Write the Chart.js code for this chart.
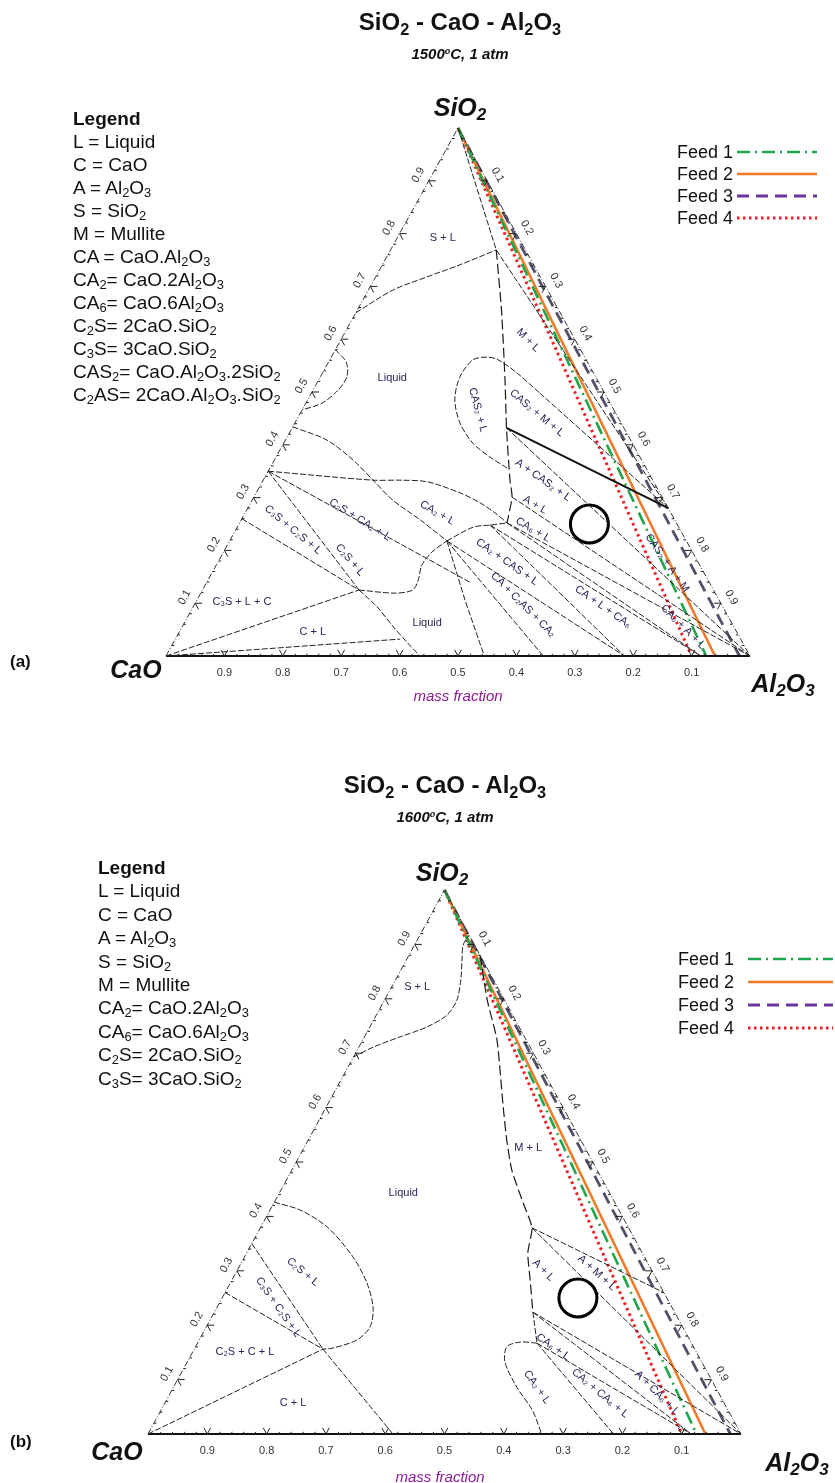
<!DOCTYPE html>
<html>
<head>
<meta charset="utf-8">
<script src="https://cdn.jsdelivr.net/npm/chart.js@4.4.0/dist/chart.umd.min.js"></script>
<style>
  body { margin: 0; background: #fff; }
  #page { position: relative; width: 835px; height: 1483px; overflow: hidden; font-family: Arial, "Liberation Sans", sans-serif; color: #111; }
  canvas { position: absolute; left: 0; }
  .t { position: absolute; white-space: nowrap; line-height: 1; }
  .c { transform: translate(-50%, -50%); }
  .l { transform: translate(0, -50%); }
  sub { font-size: 0.68em; vertical-align: -0.28em; line-height: 0; }
  sup { font-size: 0.6em; vertical-align: 0.55em; line-height: 0; }
  .title { font-weight: bold; font-size: 24px; }
  .sub { font-weight: bold; font-style: italic; font-size: 15px; }
  .vtx { font-weight: bold; font-style: italic; font-size: 25px; }
  .leg { font-size: 19px; }
  .feed { font-size: 18px; }
  .mf { font-style: italic; font-size: 15px; color: #8b1a96; }
</style>
</head>
<body>
<div id="page">
  <canvas id="chart1500" width="835" height="740" style="top:0"></canvas>
  <canvas id="chart1600" width="835" height="723" style="top:760px"></canvas>

  <!-- panel (a) texts -->
  <div class="t c title" style="left:460px;top:22px">SiO<sub>2</sub> - CaO - Al<sub>2</sub>O<sub>3</sub></div>
  <div class="t c sub" style="left:460px;top:53px">1500<sup>o</sup>C, 1 atm</div>
  <div class="t c vtx" style="left:460px;top:107px">SiO<sub>2</sub></div>
  <div class="t c vtx" style="left:136px;top:669px">CaO</div>
  <div class="t c vtx" style="left:783px;top:683px">Al<sub>2</sub>O<sub>3</sub></div>
  <div class="t c mf" style="left:458px;top:695px">mass fraction</div>
  <div class="t l" style="left:10px;top:661px;font-weight:bold;font-size:17px">(a)</div>
  <div id="legend1500"></div>
  <div id="feeds1500"></div>

  <!-- panel (b) texts -->
  <div class="t c title" style="left:445px;top:785px">SiO<sub>2</sub> - CaO - Al<sub>2</sub>O<sub>3</sub></div>
  <div class="t c sub" style="left:445px;top:816px">1600<sup>o</sup>C, 1 atm</div>
  <div class="t c vtx" style="left:442px;top:872px">SiO<sub>2</sub></div>
  <div class="t c vtx" style="left:117px;top:1451px">CaO</div>
  <div class="t c vtx" style="left:797px;top:1462px">Al<sub>2</sub>O<sub>3</sub></div>
  <div class="t c mf" style="left:440px;top:1476px">mass fraction</div>
  <div class="t l" style="left:10px;top:1441px;font-weight:bold;font-size:17px">(b)</div>
  <div id="legend1600"></div>
  <div id="feeds1600"></div>
</div>

<script>
// compositions are [SiO2, Al2O3] mass fractions, CaO = 1 - SiO2 - Al2O3
const tickValues = [0.1, 0.2, 0.3, 0.4, 0.5, 0.6, 0.7, 0.8, 0.9];

// feed lines run from pure SiO2 to the CaO-Al2O3 edge
const feedNames = ['Feed 1', 'Feed 2', 'Feed 3', 'Feed 4'];
const feedBaseAl2O3 = [0.925, 0.94, 0.982, 0.90];
const circleComposition = [0.25, 0.60];

const legendLines1500 = [
  'L = Liquid', 'C = CaO', 'A = Al<sub>2</sub>O<sub>3</sub>', 'S = SiO<sub>2</sub>', 'M = Mullite',
  'CA = CaO.Al<sub>2</sub>O<sub>3</sub>', 'CA<sub>2</sub>= CaO.2Al<sub>2</sub>O<sub>3</sub>',
  'CA<sub>6</sub>= CaO.6Al<sub>2</sub>O<sub>3</sub>', 'C<sub>2</sub>S= 2CaO.SiO<sub>2</sub>',
  'C<sub>3</sub>S= 3CaO.SiO<sub>2</sub>', 'CAS<sub>2</sub>= CaO.Al<sub>2</sub>O<sub>3</sub>.2SiO<sub>2</sub>',
  'C<sub>2</sub>AS= 2CaO.Al<sub>2</sub>O<sub>3</sub>.SiO<sub>2</sub>'
];
const legendLines1600 = [
  'L = Liquid', 'C = CaO', 'A = Al<sub>2</sub>O<sub>3</sub>', 'S = SiO<sub>2</sub>', 'M = Mullite',
  'CA<sub>2</sub>= CaO.2Al<sub>2</sub>O<sub>3</sub>', 'CA<sub>6</sub>= CaO.6Al<sub>2</sub>O<sub>3</sub>',
  'C<sub>2</sub>S= 2CaO.SiO<sub>2</sub>', 'C<sub>3</sub>S= 3CaO.SiO<sub>2</sub>'
];

// ---- 1500 °C ----
const liquidus1500 = [
  [[0.65, 0], [0.693, 0.042], [0.718, 0.088], [0.741, 0.133], [0.769, 0.181]],
  [[0.58, 0], [0.557, 0.030], [0.53, 0.045], [0.504, 0.043], [0.479, 0.028], [0.466, 0]],
  [[0.434, 0], [0.409, 0.071], [0.371, 0.135], [0.333, 0.188], [0.295, 0.241], [0.258, 0.306], [0.218, 0.372]],
  [[0.35, 0], [0.333, 0.188], [0.333, 0.234], [0.330, 0.282], [0.309, 0.349], [0.29, 0.393], [0.271, 0.428], [0.252, 0.458]],
  [[0.218, 0.372], [0.244, 0.404], [0.248, 0.431], [0.252, 0.458]],
  [[0.125, 0.268], [0.119, 0.333], [0.125, 0.360], [0.144, 0.360], [0.172, 0.352], [0.197, 0.357], [0.218, 0.372]],
  [[0.125, 0.268], [0.093, 0.315], [0.055, 0.362], [0.025, 0.401], [0, 0.435]],
  [[0.356, 0.406], [0.377, 0.366], [0.403, 0.324], [0.441, 0.283], [0.485, 0.252], [0.528, 0.239],
   [0.561, 0.245], [0.566, 0.267], [0.561, 0.288], [0.536, 0.333], [0.498, 0.391]]
];
const dashed1500 = [
  [[0.769, 0.181], [0.655, 0.247], [0.523, 0.319], [0.432, 0.367], [0.333, 0.4225], [0.301, 0.442], [0.252, 0.458]]
];
const tieLines1500 = [
  [[1, 0], [0.769, 0.181]],
  [[0.769, 0.181], [0.28, 0.72]],
  [[0.498, 0.391], [0.28, 0.72]],
  [[0.432, 0.367], [0, 1]],
  [[0.301, 0.442], [0, 1]],
  [[0.252, 0.458], [0, 1]],
  [[0.252, 0.458], [0, 0.916]],
  [[0.248, 0.431], [0, 0.916]],
  [[0.248, 0.431], [0, 0.785]],
  [[0.218, 0.372], [0, 0.785]],
  [[0.218, 0.372], [0, 0.646]],
  [[0.218, 0.372], [0.106, 0.459], [0, 0.545]],
  [[0.26, 0], [0.125, 0.268]],
  [[0.35, 0], [0.125, 0.268]],
  [[0, 0], [0.125, 0.268]],
  [[0, 0], [0.032, 0.385]],
  [[0.35, 0], [0.14, 0.45]]
];
const boldLines1500 = [
  [[0.432, 0.367], [0.28, 0.72]]
];
const labels1500 = [
  ['S + L', 0.792, 0.078, 0], ['Liquid', 0.527, 0.124, 0], ['M + L', 0.598, 0.321, 45],
  ['CAS₂ + L', 0.466, 0.301, 75], ['CAS₂ + M + L', 0.46, 0.405, 40], ['A + CAS₂ + L', 0.333, 0.479, 35],
  ['A + L', 0.286, 0.489, 30], ['CA₆ + L', 0.239, 0.509, 30], ['CA₂ + CAS + L', 0.178, 0.495, 35],
  ['CA + C₂AS + CA₂', 0.097, 0.563, 45], ['CA + L + CA₆', 0.093, 0.702, 35], ['CAS₂ + A + M', 0.176, 0.77, 55],
  ['CA₆ + A + L', 0.055, 0.858, 45], ['CA₂ + L', 0.271, 0.329, 30], ['C₂S + CA₂ + L', 0.258, 0.203, 32],
  ['C₃S + C₂S + L', 0.239, 0.098, 40], ['C₂S + L', 0.182, 0.224, 50], ['C₃S + L + C', 0.102, 0.079, 0],
  ['C + L', 0.045, 0.229, 0], ['Liquid', 0.0625, 0.416, 0]
];

// ---- 1600 °C ----
const liquidus1600 = [
  [[0.693, 0], [0.711, 0.024], [0.730, 0.060], [0.748, 0.096], [0.770, 0.119], [0.798, 0.122],
   [0.835, 0.110], [0.871, 0.094], [0.899, 0.082], [0.917, 0.083]],
  [[0.426, 0], [0.412, 0.05], [0.3805, 0.112], [0.325, 0.1835], [0.278, 0.23], [0.233, 0.263],
   [0.197, 0.276], [0.173, 0.266], [0.158, 0.233], [0.156, 0.217]],
  [[0.167, 0.5725], [0.169, 0.543], [0.16, 0.525], [0.132, 0.536], [0.085, 0.58], [0.044, 0.626], [0, 0.664]],
  [[0.224, 0.537], [0.167, 0.5725]]
];
const dashed1600 = [
  [[0.88, 0.12], [0.798, 0.173], [0.724, 0.2265], [0.601, 0.2985], [0.54, 0.335], [0.485, 0.371],
   [0.425, 0.42], [0.379, 0.458], [0.333, 0.474], [0.283, 0.503], [0.224, 0.537]]
];
const tieLines1600 = [
  [[0.379, 0.458], [0.26, 0.74]],
  [[0.379, 0.458], [0, 1]],
  [[0.224, 0.537], [0, 1]],
  [[0.224, 0.537], [0, 0.916]],
  [[0.167, 0.5725], [0, 0.916]],
  [[0.167, 0.5725], [0, 0.785]],
  [[0.35, 0], [0.156, 0.217]],
  [[0.26, 0], [0.156, 0.217]],
  [[0, 0], [0.156, 0.217]],
  [[0.156, 0.217], [0, 0.413]]
];
const boldLines1600 = [];
const labels1600 = [
  ['S + L', 0.822, 0.043, 0], ['Liquid', 0.443, 0.209, 0], ['M + L', 0.526, 0.378, 0],
  ['A + L', 0.301, 0.516, 45], ['A + M + L', 0.296, 0.609, 42], ['CA₆ + L', 0.16, 0.603, 35],
  ['CA₂ + L', 0.086, 0.613, 55], ['CA₂ + CA₆ + L', 0.075, 0.725, 40], ['A + CA₆ + L', 0.075, 0.821, 45],
  ['C₂S + L', 0.298, 0.112, 40], ['C₃S + C₂S + L', 0.233, 0.103, 55], ['C₂S + C + L', 0.151, 0.088, 0],
  ['C + L', 0.057, 0.216, 0]
];

const FONT = 'Arial, "Liberation Sans", sans-serif';
const feedStyles = [
  { color: '#1fa64a', legend: '#1fa64a', dash: [13, 5, 2, 5], width: 2.6 },
  { color: '#f07a28', legend: '#f07a28', dash: [], width: 2.6 },
  { color: '#55506a', legend: '#6a35a0', dash: [12, 7], width: 2.8 },
  { color: '#f01c24', legend: '#f01c24', dash: [2.5, 3.5], width: 3 }
];

// ternary composition -> cartesian value on the hidden linear axes
function toPoint(c) {
  return { x: c[1] + c[0] / 2, y: c[0] };
}

function lineSet(points, color, width, dash, tension) {
  return {
    data: points.map(toPoint), showLine: true, borderColor: color, borderWidth: width,
    borderDash: dash, pointRadius: 0, fill: false, tension: tension || 0, clip: false
  };
}

// ticks, tick labels, region labels and feed legend samples
const ternaryDecor = {
  id: 'ternaryDecor',
  afterDatasetsDraw(chart, args, opts) {
    const { ctx, scales: { x, y } } = chart;
    const px = c => { const p = toPoint(c); return [x.getPixelForValue(p.x), y.getPixelForValue(p.y)]; };
    const O = px([0, 0]), Al = px([0, 1]), Si = px([1, 0]);
    const unit = (a, b) => { const dx = b[0] - a[0], dy = b[1] - a[1], n = Math.hypot(dx, dy); return [dx / n, dy / n]; };
    const up1 = unit(O, Si);   // along left edge, upward
    const up2 = unit(Al, Si);  // along right edge, upward
    ctx.save();
    ctx.strokeStyle = '#222';
    ctx.lineWidth = 1;
    const seg = (p, d, len) => { ctx.moveTo(p[0], p[1]); ctx.lineTo(p[0] + d[0] * len, p[1] + d[1] * len); };
    ctx.beginPath();
    for (let i = 1; i < 50; i++) {
      const v = i / 50;
      const major = i % 5 === 0;
      const len = major ? 7 : 2.5;
      const b = px([0, v]), l = px([v, 0]), r = px([1 - v, v]);
      seg(b, up1, len); if (major) seg(b, up2, len);
      seg(l, [1, 0], len); if (major) seg(l, [-up2[0], -up2[1]], len);
      seg(r, [-1, 0], len); if (major) seg(r, [-up1[0], -up1[1]], len);
    }
    ctx.stroke();

    ctx.fillStyle = '#333';
    ctx.font = '11px ' + FONT;
    ctx.textAlign = 'center';
    ctx.textBaseline = 'middle';
    const angL = Math.atan2(up1[1], up1[0]);
    const angR = Math.atan2(-up2[1], -up2[0]);
    tickValues.forEach(v => {
      const b = px([0, 1 - v]);
      ctx.fillText(v.toFixed(1), b[0], b[1] + 17);
      const l = px([v, 0]);
      ctx.save(); ctx.translate(l[0] + up1[1] * 12, l[1] - up1[0] * 12); ctx.rotate(angL);
      ctx.fillText(v.toFixed(1), 0, 0); ctx.restore();
      const r = px([1 - v, v]);
      ctx.save(); ctx.translate(r[0] - up2[1] * 12, r[1] + up2[0] * 12); ctx.rotate(angR);
      ctx.fillText(v.toFixed(1), 0, 0); ctx.restore();
    });

    ctx.fillStyle = '#2c2456';
    ctx.font = '11px ' + FONT;
    opts.labels.forEach(([text, s, a, ang]) => {
      const p = px([s, a]);
      ctx.save(); ctx.translate(p[0], p[1]); ctx.rotate(ang * Math.PI / 180);
      ctx.fillText(text, 0, 0); ctx.restore();
    });

    // feed legend line samples
    feedStyles.forEach((st, i) => {
      const yy = opts.legendY[i];
      ctx.beginPath();
      ctx.strokeStyle = st.legend;
      ctx.lineWidth = st.width;
      ctx.setLineDash(st.dash);
      ctx.moveTo(opts.legendX[0], yy);
      ctx.lineTo(opts.legendX[1], yy);
      ctx.stroke();
    });
    ctx.restore();
  }
};

function buildLegend(id, lines, left, top, step) {
  let html = `<div class="t l leg" style="left:${left}px;top:${top}px;font-weight:bold">Legend</div>`;
  lines.forEach((txt, i) => {
    html += `<div class="t l leg" style="left:${left}px;top:${(top + step * (i + 1)).toFixed(1)}px">${txt}</div>`;
  });
  document.getElementById(id).innerHTML = html;
}

function buildFeedText(id, left, tops) {
  document.getElementById(id).innerHTML = feedNames.map((n, i) =>
    `<div class="t l feed" style="left:${left}px;top:${tops[i]}px">${n}</div>`).join('');
}

function drawDiagram(canvasId, liquidus, dashed, ties, bold, labels, padding, legendX, legendY) {
  const datasets = [];
  liquidus.forEach(p => datasets.push(lineSet(p, '#222', 1, [6, 2], 0.3)));
  dashed.forEach(p => datasets.push(lineSet(p, '#1a1a1a', 1.2, [10, 4], 0.2)));
  ties.forEach(p => datasets.push(lineSet(p, '#222', 1, [6, 2])));
  bold.forEach(p => datasets.push(lineSet(p, '#111', 2, [])));
  // triangle edges
  datasets.push(lineSet([[0, 0], [0, 1]], '#111', 2, []));
  datasets.push(lineSet([[0, 0], [1, 0]], '#333', 1, [6, 2, 1, 2]));
  datasets.push(lineSet([[1, 0], [0, 1]], '#333', 1, [6, 2, 1, 2]));
  // feeds
  feedBaseAl2O3.forEach((a, i) => {
    const st = feedStyles[i];
    datasets.push(lineSet([[1, 0], [0, a]], st.color, st.width, st.dash));
  });
  datasets.push({
    data: [toPoint(circleComposition)], showLine: false, pointRadius: 19, pointBorderWidth: 3,
    pointBorderColor: '#000', pointBackgroundColor: 'rgba(0,0,0,0)', clip: false
  });

  new Chart(document.getElementById(canvasId), {
    type: 'scatter',
    data: { datasets },
    options: {
      responsive: false,
      animation: false,
      devicePixelRatio: 1,
      events: [],
      layout: { padding },
      plugins: {
        legend: { display: false },
        tooltip: { enabled: false },
        ternaryDecor: { labels, legendX, legendY }
      },
      scales: {
        x: { type: 'linear', min: 0, max: 1, display: false },
        y: { type: 'linear', min: 0, max: 1, display: false }
      }
    },
    plugins: [ternaryDecor]
  });
}

buildLegend('legend1500', legendLines1500, 73, 118, 23);
buildLegend('legend1600', legendLines1600, 98, 867, 23.4);
buildFeedText('feeds1500', 677, [152, 174, 196, 218]);
buildFeedText('feeds1600', 678, [959, 982, 1005, 1028]);

drawDiagram('chart1500', liquidus1500, dashed1500, tieLines1500, boldLines1500, labels1500,
  { left: 166, right: 85, top: 128, bottom: 84 }, [737, 817], [152, 174, 196, 218]);
drawDiagram('chart1600', liquidus1600, dashed1600, tieLines1600, boldLines1600, labels1600,
  { left: 148, right: 94, top: 130, bottom: 49 }, [748, 833], [199, 222, 245, 268]);
</script>
</body>
</html>
